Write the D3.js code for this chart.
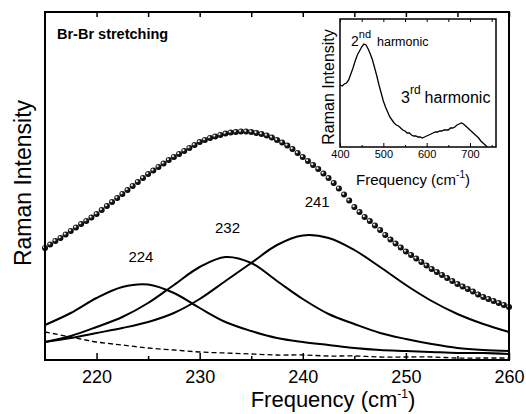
<!DOCTYPE html>
<html lang="en">
<head>
<meta charset="utf-8">
<title>Br-Br stretching Raman fit</title>
<script src="https://cdn.jsdelivr.net/npm/d3@7/dist/d3.min.js"></script>
<style>
  body { margin: 0; background: #fff; }
  text { font-family: Arial, "Liberation Sans", Helvetica, sans-serif; fill: #000; }
  .axis path { display: none; }
  .axis line { stroke: #000; stroke-width: 1.5; }
  .frame { fill: none; stroke: #000; stroke-width: 2; }
  .comp { fill: none; stroke: #000; stroke-width: 2; }
</style>
</head>
<body>
<script>
// ---- data (intensity in arbitrary units) ----
var compFreq = [215, 217.5, 220, 222.5, 225, 227.5, 230, 232.5, 235, 237.5,
                240, 242.5, 245, 247.5, 250, 252.5, 255, 257.5, 260];
var peak224 = [35, 47, 62, 73, 75.5, 67, 52, 38, 29, 22, 18, 15, 12, 10, 9, 8, 7, 7, 6];
var peak232 = [18, 24, 33, 43, 57, 75, 93, 103, 97, 79, 61, 46, 36, 27, 21, 16, 12, 10, 9];
var peak241 = [18, 22, 27, 32, 38, 47, 61, 79, 97, 115, 124.5, 122, 110, 93, 75, 59, 46, 36, 28];
var baseline = [28, 23, 18, 15, 12, 10, 8, 7, 6, 5, 5, 4, 4, 3, 3, 3, 2, 2, 2];

// measured spectrum (dots), 215 -> 260 every 0.5 cm-1
var fitFreq = d3.range(215, 260.001, 0.5);
var measured = [112, 115.5, 119, 122, 125.5, 129, 132.5, 136, 139, 142.5,
  146, 150, 154, 158, 162, 166, 170, 174, 178, 182,
  186, 189.5, 193, 196.5, 200, 203, 206, 209, 212, 215,
  218, 220, 222, 223.5, 225, 226.5, 227.5, 228, 228.5, 228.5,
  228, 227, 226, 224.5, 222.5, 220, 217.5, 214.5, 211, 207,
  203, 199, 195, 191, 186.5, 182, 177, 171.5, 165.5, 159.5,
  153, 148, 143, 139, 134.5, 130, 125, 120.5, 116.5, 112.5,
  108.5, 105, 101.5, 98, 94.5, 91, 88, 85, 82, 79,
  76, 73.5, 71, 68.5, 65.5, 63, 61, 59, 57, 55, 53];

// inset: overtone spectrum, 400 -> 740 every 5 cm-1
var insetFreq = d3.range(400, 740.1, 5);
var overtone = [62, 61, 63, 64, 67, 73, 79, 86, 92, 96,
  100, 103, 102, 98, 93, 87, 79, 71, 62, 54,
  46, 40, 35, 30, 27, 24, 22, 21, 19, 17,
  16, 14, 14, 12, 11, 11, 10, 10, 9, 10,
  11, 12, 13, 14, 15, 15, 16, 16, 17, 17,
  17, 19, 19, 20, 22, 23, 24, 23, 21, 19,
  17, 15, 13, 11, 9, 6, 4, 2, 0];

var majorTicks = [220, 230, 240, 250, 260];
var minorTicks = [225, 235, 245, 255];
var insetMajor = [400, 500, 600, 700];
var insetMinor = [450, 550, 650, 750];
var peakLabels = [{t: "224", f: 224.3, v: 98}, {t: "232", f: 232.7, v: 127}, {t: "241", f: 241.4, v: 153}];

// ---- layout ----
var W = 526, H = 414;
var margin = {top: 12, right: 17, bottom: 54, left: 45},
    width = W - margin.left - margin.right,
    height = H - margin.top - margin.bottom;

var svg = d3.select("body").append("svg")
  .attr("width", W).attr("height", H);

var defs = svg.append("defs");
var grad = defs.append("radialGradient").attr("id", "bead")
  .attr("cx", "36%").attr("cy", "36%").attr("r", "64%");
grad.append("stop").attr("offset", "0%").attr("stop-color", "#fff");
grad.append("stop").attr("offset", "16%").attr("stop-color", "#ddd");
grad.append("stop").attr("offset", "38%").attr("stop-color", "#222");
grad.append("stop").attr("offset", "100%").attr("stop-color", "#000");

var g = svg.append("g")
  .attr("transform", "translate(" + margin.left + "," + margin.top + ")");

var x = d3.scaleLinear().domain([215, 260]).range([0, width]);
var y = d3.scaleLinear().domain([0, 348]).range([height, 0]);

var line = d3.line()
  .x(function(d) { return x(d[0]); })
  .y(function(d) { return y(d[1]); })
  .curve(d3.curveCatmullRom.alpha(0.5));

function pairs(xs, ys) { return xs.map(function(v, i) { return [v, ys[i]]; }); }

// components
[peak224, peak232, peak241].forEach(function(s) {
  g.append("path").attr("class", "comp").attr("d", line(pairs(compFreq, s)));
});
g.append("path").attr("class", "comp")
  .style("stroke-width", 1.3).style("stroke-dasharray", "5,3")
  .attr("d", line(pairs(compFreq, baseline)));

// measured spectrum as beads
g.selectAll(".bead").data(pairs(fitFreq, measured)).enter()
  .append("circle").attr("class", "bead")
  .attr("cx", function(d) { return x(d[0]); })
  .attr("cy", function(d) { return y(d[1]); })
  .attr("r", 3)
  .attr("fill", "url(#bead)");

// axes
g.append("g").attr("class", "axis")
  .attr("transform", "translate(0," + height + ")")
  .call(d3.axisBottom(x).tickValues(majorTicks).tickSize(-7).tickPadding(10))
  .selectAll("text").style("font-size", "18px");
g.append("g").attr("class", "axis")
  .attr("transform", "translate(0," + height + ")")
  .call(d3.axisBottom(x).tickValues(minorTicks).tickSize(-4).tickFormat(""));
g.append("g").attr("class", "axis")
  .call(d3.axisTop(x).tickValues(majorTicks.concat(minorTicks)).tickSize(-5).tickFormat(""));

g.append("rect").attr("class", "frame")
  .attr("width", width).attr("height", height);

// labels
g.selectAll(".plabel").data(peakLabels).enter()
  .append("text").attr("class", "plabel")
  .attr("x", function(d) { return x(d.f); })
  .attr("y", function(d) { return y(d.v); })
  .attr("text-anchor", "middle")
  .style("font-size", "15px")
  .text(function(d) { return d.t; });

g.append("text").attr("x", 12).attr("y", 27)
  .style("font-size", "14.5px").style("font-weight", "bold")
  .text("Br-Br stretching");

var xt = svg.append("text")
  .attr("x", 333).attr("y", 407)
  .attr("text-anchor", "middle")
  .style("font-size", "22px");
xt.append("tspan").text("Frequency (cm");
xt.append("tspan").attr("dy", -9).style("font-size", "12px").text("-1");
xt.append("tspan").attr("dy", 9).text(")");

svg.append("text")
  .attr("transform", "translate(31,183) rotate(-90)")
  .attr("text-anchor", "middle")
  .style("font-size", "23px")
  .text("Raman Intensity");

// ---- inset ----
var ix = d3.scaleLinear().domain([400, 760]).range([340, 496]);
var iy = d3.scaleLinear().domain([0, 128]).range([147, 19]);

var ins = svg.append("g");
ins.append("path")
  .attr("fill", "none").attr("stroke", "#000").attr("stroke-width", 1.3)
  .attr("d", d3.line()
    .x(function(d) { return ix(d[0]); })
    .y(function(d) { return iy(d[1]); })(pairs(insetFreq, overtone)));

ins.append("g").attr("class", "axis")
  .attr("transform", "translate(0,147)")
  .call(d3.axisBottom(ix).tickValues(insetMajor).tickSize(-4).tickPadding(3))
  .selectAll("text").style("font-size", "11px");
ins.append("g").attr("class", "axis")
  .attr("transform", "translate(0,147)")
  .call(d3.axisBottom(ix).tickValues(insetMinor).tickSize(-2).tickFormat(""));
ins.append("g").attr("class", "axis")
  .attr("transform", "translate(0,19)")
  .call(d3.axisTop(ix).tickValues(insetMajor.concat(insetMinor)).tickSize(-3).tickFormat(""));
ins.selectAll(".axis line").style("stroke-width", 1);

ins.append("rect").attr("class", "frame").style("stroke-width", 1.5)
  .attr("x", 340).attr("y", 19).attr("width", 156).attr("height", 128);

ins.append("text")
  .attr("transform", "translate(334,87) rotate(-90)")
  .attr("text-anchor", "middle")
  .style("font-size", "16px")
  .text("Raman Intensity");

var it = ins.append("text").attr("x", 413).attr("y", 185)
  .attr("text-anchor", "middle").style("font-size", "15px");
it.append("tspan").text("Frequency (cm");
it.append("tspan").attr("dy", -7).style("font-size", "10px").text("-1");
it.append("tspan").attr("dy", 7).text(")");

var h2 = ins.append("text").attr("x", 351).attr("y", 46).style("font-size", "14px");
h2.append("tspan").text("2");
h2.append("tspan").attr("dy", -8).style("font-size", "11px").text("nd");
h2.append("tspan").attr("dy", 8).attr("dx", 6).style("font-size", "12.5px").text("harmonic");

var h3 = ins.append("text").attr("x", 401).attr("y", 103).style("font-size", "16px");
h3.append("tspan").text("3");
h3.append("tspan").attr("dy", -9).style("font-size", "12px").text("rd");
h3.append("tspan").attr("dy", 9).attr("dx", 4).text("harmonic");
</script>
</body>
</html>
